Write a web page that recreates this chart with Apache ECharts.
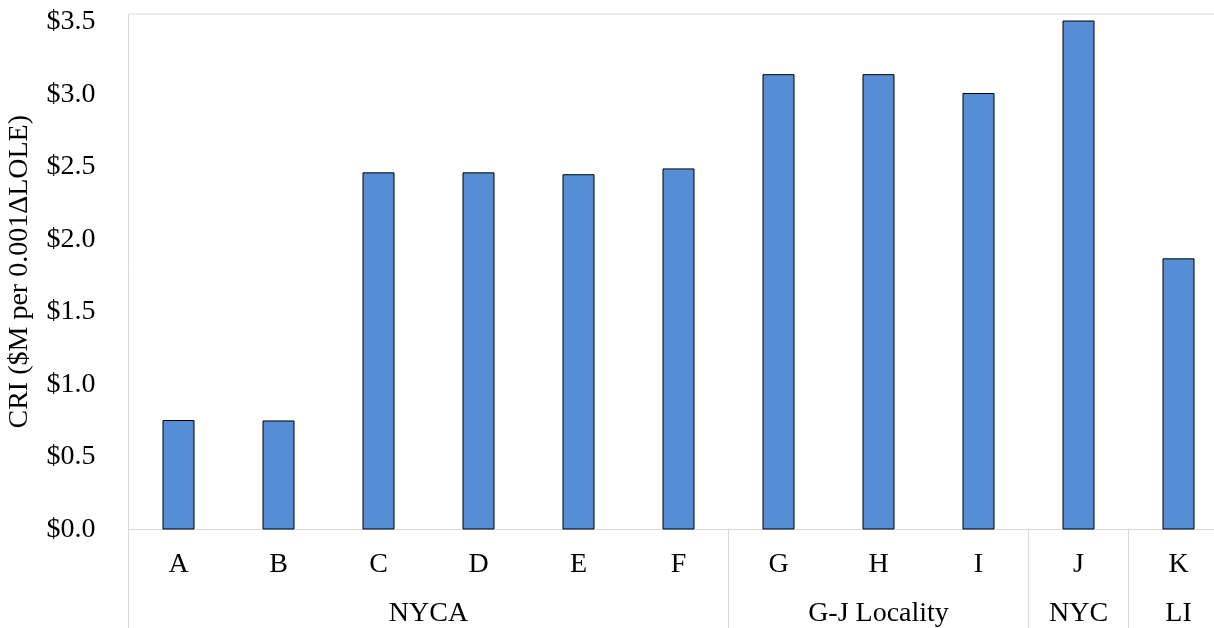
<!DOCTYPE html>
<html>
<head>
<meta charset="utf-8">
<script src="https://cdn.jsdelivr.net/npm/echarts@6/dist/echarts.min.js"></script>
<style>
  html, body { margin: 0; padding: 0; background: #fff; }
  #cri { width: 1214px; height: 628px; }
</style>
</head>
<body>
<div id="cri"></div>
<script>
const zones = ['A', 'B', 'C', 'D', 'E', 'F', 'G', 'H', 'I', 'J', 'K']
const cri = [0.755, 0.752, 2.463, 2.463, 2.45, 2.49, 3.14, 3.14, 3.01, 3.51, 1.87]
const groupNames = ['NYCA', 'G-J Locality', 'NYC', 'LI']
const groupSizes = [6, 3, 1, 1]
const yTicks = [0, 0.5, 1, 1.5, 2, 2.5, 3, 3.5]

// group edges / centres in band units (0..zones.length)
const edges = [0]
const centres = []
groupSizes.forEach(n => {
  const start = edges[edges.length - 1]
  centres.push(start + n / 2)
  edges.push(start + n)
})

const font = "'Liberation Serif', 'Times New Roman', serif"
const lineGrey = '#d9d9d9'

var chartDom = document.getElementById('cri')
var myChart = echarts.init(chartDom)
const option = {
  animation: false,
  grid: {
    left: 128.5,
    width: 1100,
    top: 14,
    bottom: 98.5,
    containLabel: false,
    outerBoundsMode: 'none',
    show: true,
    borderColor: lineGrey,
    borderWidth: 1
  },
  xAxis: [
    {
      type: 'category',
      data: zones,
      position: 'bottom',
      axisLine: { show: true, lineStyle: { color: lineGrey, width: 1 } },
      axisTick: { show: false },
      axisLabel: { color: '#000', fontFamily: font, fontSize: 28, margin: 21 }
    },
    {
      type: 'value',
      min: 0,
      max: zones.length,
      position: 'bottom',
      axisLine: { show: false },
      splitLine: { show: false },
      axisTick: {
        show: true,
        customValues: edges,
        length: 100,
        lineStyle: { color: lineGrey, width: 1 }
      },
      axisLabel: {
        customValues: centres,
        color: '#000',
        fontFamily: font,
        fontSize: 28,
        margin: 70,
        formatter: v => groupNames[centres.indexOf(v)] || ''
      }
    }
  ],
  yAxis: {
    type: 'value',
    min: 0,
    max: 3.555,
    interval: 0.5,
    axisLine: { show: false },
    axisTick: { show: false },
    splitLine: { show: false },
    axisLabel: {
      color: '#000',
      fontFamily: font,
      fontSize: 28,
      margin: 33,
      formatter: v => yTicks.includes(v) ? '$' + v.toFixed(1) : ''
    },
    name: 'CRI ($M per 0.001ΔLOLE)',
    nameLocation: 'middle',
    nameGap: 95,
    nameTextStyle: { color: '#000', fontFamily: font, fontSize: 28 }
  },
  series: [
    {
      type: 'bar',
      xAxisIndex: 0,
      data: cri,
      barWidth: 32,
      itemStyle: { color: '#558ed5', borderColor: '#000', borderWidth: 1 }
    }
  ]
}
option && myChart.setOption(option)
</script>
</body>
</html>
